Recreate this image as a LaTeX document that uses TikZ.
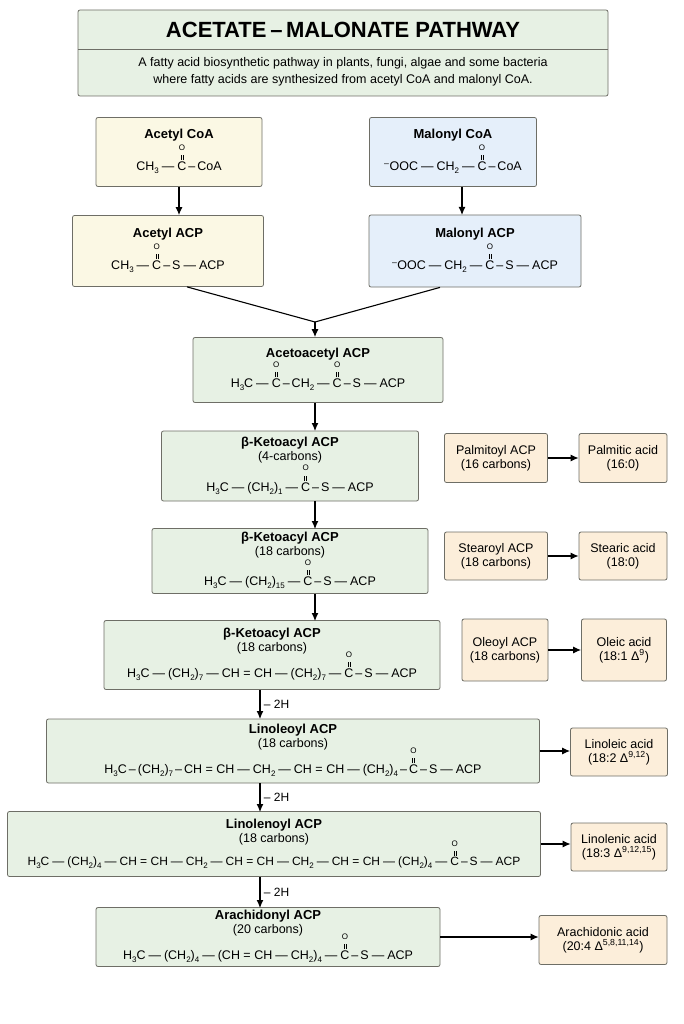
\documentclass[tikz,border=0pt]{standalone}
\usepackage{fontspec}
\setmainfont{Liberation Sans}
\usetikzlibrary{arrows.meta}
\definecolor{yel}{HTML}{FBF8E4}
\definecolor{blu}{HTML}{E5EFFA}
\definecolor{grn}{HTML}{E7F1E4}
\definecolor{org}{HTML}{FCEEDA}
\definecolor{bord}{HTML}{6E6E66}
\newcommand\carb{\begin{tabular}[b]{@{}c@{}}{\footnotesize O}\\[-4pt]\rule{0.4pt}{5pt}\hspace{1.6pt}\rule{0.4pt}{5pt}\\[-3.5pt]C\end{tabular}}
\newcommand\sbs[1]{\raisebox{-0.45ex}{\footnotesize #1}}
\newcommand\bd{\hspace{3pt}—\hspace{3pt}}
\newcommand\bn{\hspace{2pt}–\hspace{2pt}}
\newcommand\hd[1]{{\fontsize{13}{15}\selectfont\bfseries #1}}
\begin{document}
\begin{tikzpicture}[x=1pt,y=-1pt,
  box/.style={draw=bord,line width=0.8pt,rounded corners=2pt,align=center,inner sep=2pt,font=\fontsize{12.5}{14}\selectfont},
  arr/.style={-{Latex[length=8pt,width=7pt]},line width=1.1pt},
  ln/.style={line width=1.1pt}]
\useasboundingbox (0,0) rectangle (683,1024);
\node[box,fill=grn,minimum width=530,minimum height=86] (title) at (343,53) {};
\node at (343,30) {\fontsize{22}{24}\selectfont\bfseries ACETATE\,–\,MALONATE PATHWAY};
\draw[bord,line width=0.6pt] (78,49) -- (608,49);
\node[align=center,font=\fontsize{12.5}{17}\selectfont] at (343,72) {A fatty acid biosynthetic pathway in plants, fungi, algae and some bacteria\\where fatty acids are synthesized from acetyl CoA and malonyl CoA.};

\node[box,fill=yel,minimum width=166,minimum height=69] (acoa) at (179,152) {\hd{Acetyl CoA}\\[-2pt] CH\sbs{3}\bd\carb\bn CoA};
\node[box,fill=blu,minimum width=167,minimum height=69] (mcoa) at (453,152) {\hd{Malonyl CoA}\\[-2pt] \textsuperscript{–}OOC\bd CH\sbs{2}\bd\carb\bn CoA};
\node[box,fill=yel,minimum width=191,minimum height=71] (aacp) at (168,251) {\hd{Acetyl ACP}\\[-2pt] CH\sbs{3}\bd\carb\bn S\bd ACP};
\node[box,fill=blu,minimum width=212,minimum height=72] (macp) at (475,251) {\hd{Malonyl ACP}\\[-2pt] \textsuperscript{–}OOC\bd CH\sbs{2}\bd\carb\bn S\bd ACP};
\node[box,fill=grn,minimum width=250,minimum height=65] (aa) at (318,370) {\hd{Acetoacetyl ACP}\\[-4pt] H\sbs{3}C\bd\carb\bn CH\sbs{2}\bd\carb\bn S\bd ACP};
\node[box,fill=grn,minimum width=257,minimum height=70] (k4) at (290,466) {\hd{β-Ketoacyl ACP}\\(4-carbons)\\[-3pt] H\sbs{3}C\bd(CH\sbs{2})\sbs{1}\bd\carb\bn S\bd ACP};
\node[box,fill=grn,minimum width=276,minimum height=65] (k18) at (290,561) {\hd{β-Ketoacyl ACP}\\(18 carbons)\\[-4pt] H\sbs{3}C\bd(CH\sbs{2})\sbs{15}\bd\carb\bn S\bd ACP};
\node[box,fill=grn,minimum width=336,minimum height=69] (k18b) at (272,655) {\hd{β-Ketoacyl ACP}\\(18 carbons)\\[-8pt] H\sbs{3}C\bd(CH\sbs{2})\sbs{7}\bd CH = CH\bd(CH\sbs{2})\sbs{7}\bd\carb\bn S\bd ACP};
\node[box,fill=grn,minimum width=493,minimum height=64] (lin) at (293,751) {\hd{Linoleoyl ACP}\\(18 carbons)\\[-8pt] H\sbs{3}C\bn(CH\sbs{2})\sbs{7}\bn CH = CH\bd CH\sbs{2}\bd CH = CH\bd (CH\sbs{2})\sbs{4}\bn\carb\bn S\bd ACP};
\node[box,fill=grn,minimum width=533,minimum height=65] (lnn) at (274,844) {\hd{Linolenoyl ACP}\\(18 carbons)\\[-8pt] \fontsize{12}{13}\selectfont H\sbs{3}C\bd(CH\sbs{2})\sbs{4}\bd CH = CH\bd CH\sbs{2}\bd CH = CH\bd CH\sbs{2}\bd CH = CH\bd(CH\sbs{2})\sbs{4}\bd\carb\bn S\bd ACP};
\node[box,fill=grn,minimum width=344,minimum height=59] (ara) at (268,937) {\hd{Arachidonyl ACP}\\(20 carbons)\\[-8pt] H\sbs{3}C\bd(CH\sbs{2})\sbs{4}\bd(CH = CH\bd CH\sbs{2})\sbs{4}\bd\carb\bn S\bd ACP};

\node[box,fill=org,minimum width=103,minimum height=49] (pal) at (496,458) {Palmitoyl ACP\\(16 carbons)};
\node[box,fill=org,minimum width=88,minimum height=49] (pala) at (623,458) {Palmitic acid\\(16:0)};
\node[box,fill=org,minimum width=103,minimum height=48] (ste) at (496,556) {Stearoyl ACP\\(18 carbons)};
\node[box,fill=org,minimum width=88,minimum height=48] (stea) at (623,556) {Stearic acid\\(18:0)};
\node[box,fill=org,minimum width=86,minimum height=62] (ole) at (505,650) {Oleoyl ACP\\(18 carbons)};
\node[box,fill=org,minimum width=85,minimum height=62] (olea) at (624,650) {Oleic acid\\(18:1 Δ\textsuperscript{9})};
\node[box,fill=org,minimum width=97,minimum height=48] (lina) at (619,752) {Linoleic acid\\(18:2 Δ\textsuperscript{9,12})};
\node[box,fill=org,minimum width=96,minimum height=48] (lnna) at (619,847) {Linolenic acid\\(18:3 Δ\textsuperscript{9,12,15})};
\node[box,fill=org,minimum width=128,minimum height=49] (araa) at (603,940) {Arachidonic acid\\(20:4 Δ\textsuperscript{5,8,11,14})};

\draw[arr] (acoa.south) -- (acoa.south |- aacp.north);
\draw[arr] (mcoa.south -| 462,0) -- (462,215);
\coordinate (m) at (315,322);
\draw[ln] ([xshift=19]aacp.south) -- (m);
\draw[ln] ([xshift=-35]macp.south) -- (m);
\draw[arr] (m) -- (m |- aa.north);
\draw[arr] (aa.south -| 315,0) -- (315,431);
\draw[arr] (k4.south -| 315,0) -- (315,529);
\draw[arr] (k18.south -| 315,0) -- (315,621);
\draw[arr] (k18b.south -| 260,0) -- node[right,font=\fontsize{12}{13}\selectfont]{– 2H} (260,719);
\draw[arr] (lin.south -| 260,0) -- node[right,font=\fontsize{12}{13}\selectfont]{– 2H} (260,812);
\draw[arr] (lnn.south -| 260,0) -- node[right,font=\fontsize{12}{13}\selectfont]{– 2H} (260,908);
\draw[arr] (pal) -- (pala);
\draw[arr] (ste) -- (stea);
\draw[arr] (ole) -- (olea);
\draw[arr] (lin.east) -- (lin.east -| lina.west);
\draw[arr] (lnn.east) -- (lnn.east -| lnna.west);
\draw[arr] (ara.east) -- (ara.east -| araa.west);
\end{tikzpicture}
\end{document}
